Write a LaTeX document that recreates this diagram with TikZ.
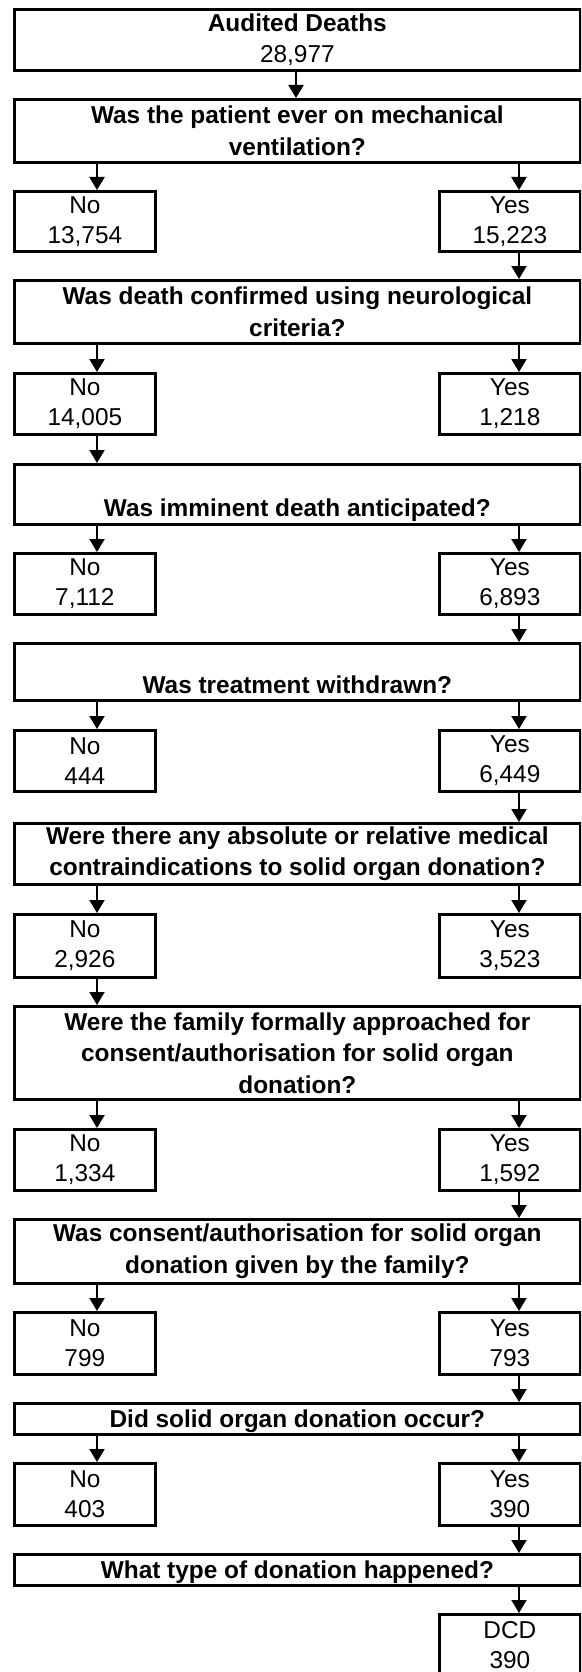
\documentclass[tikz,border=0pt]{standalone}
\usepackage{fontspec}
\setmainfont{Liberation Sans}
\usetikzlibrary{arrows.meta}
\begin{document}
\begin{tikzpicture}[x=1pt,y=-1pt,
  box/.style={draw=black, line width=2.7pt, inner sep=0pt, anchor=north west, align=center},
  wide/.style={box, minimum width=566pt, font=\fontsize{24.4}{31.5}\selectfont\bfseries},
  side/.style={box, minimum width=141pt, font=\fontsize{24.4}{30}\selectfont},
  arr/.style={-{Triangle[width=15pt,length=13pt]}, line width=2pt},
  lowtext/.style={text height=44pt, text depth=0pt},
  captext/.style={text height=17.5pt, text depth=0pt}
]
\clip (0,0) rectangle (581,1672);
\fill[white] (0,0) rectangle (581,1672);

\node[wide, minimum height=61pt] (top) at (13,8) {Audited Deaths\\\mdseries 28,977};
\node[wide, minimum height=63pt] (q1) at (13,98) {Was the patient ever on mechanical\\ventilation?};
\node[side, minimum height=60pt] (n1) at (13,190) {No\\13,754};
\node[side, minimum height=60pt] (y1) at (438,190) {Yes\\15,223};
\node[wide, minimum height=63pt] (q2) at (13,279) {Was death confirmed using neurological\\criteria?};
\node[side, minimum height=61pt] (n2) at (13,372) {No\\14,005};
\node[side, minimum height=61pt] (y2) at (438,372) {Yes\\1,218};
\node[wide, lowtext, minimum height=60pt] (q3) at (13,463) {Was imminent death anticipated?};
\node[side, minimum height=61pt] (n3) at (13,552) {No\\7,112};
\node[side, minimum height=61pt] (y3) at (438,552) {Yes\\6,893};
\node[wide, lowtext, minimum height=57pt] (q4) at (13,642) {Was treatment withdrawn?};
\node[side, minimum height=61pt] (n4) at (13,729) {No\\444};
\node[side, minimum height=61pt] (y4) at (438,729) {Yes\\6,449};
\node[wide, minimum height=61pt] (q5) at (13,822) {Were there any absolute or relative medical\\contraindications to solid organ donation?};
\node[side, minimum height=63pt] (n5) at (13,913) {No\\2,926};
\node[side, minimum height=63pt] (y5) at (438,913) {Yes\\3,523};
\node[wide, minimum height=93pt] (q6) at (13,1005) {Were the family formally approached for\\consent/authorisation for solid organ\\donation?};
\node[side, minimum height=61pt] (n6) at (13,1128) {No\\1,334};
\node[side, minimum height=61pt] (y6) at (438,1128) {Yes\\1,592};
\node[wide, minimum height=64pt] (q7) at (13,1218) {Was consent/authorisation for solid organ\\donation given by the family?};
\node[side, minimum height=62pt] (n7) at (13,1311) {No\\799};
\node[side, minimum height=62pt] (y7) at (438,1311) {Yes\\793};
\node[wide, captext, minimum height=31pt] (q8) at (13,1402) {Did solid organ donation occur?};
\node[side, minimum height=62pt] (n8) at (13,1462) {No\\403};
\node[side, minimum height=62pt] (y8) at (438,1462) {Yes\\390};
\node[wide, captext, minimum height=31pt] (q9) at (13,1553) {What type of donation happened?};
\node[side, minimum height=61pt] (dcd) at (438,1613) {DCD\\390};

\coordinate (xl) at (97,0);
\coordinate (xr) at (519,0);
\coordinate (xc) at (296,0);

\draw[arr] (top.south -| xc) -- (q1.north -| xc);
\draw[arr] (q1.south -| xl) -- (n1.north -| xl);
\draw[arr] (q1.south -| xr) -- (y1.north -| xr);
\draw[arr] (y1.south -| xr) -- (q2.north -| xr);
\draw[arr] (q2.south -| xl) -- (n2.north -| xl);
\draw[arr] (q2.south -| xr) -- (y2.north -| xr);
\draw[arr] (n2.south -| xl) -- (q3.north -| xl);
\draw[arr] (q3.south -| xl) -- (n3.north -| xl);
\draw[arr] (q3.south -| xr) -- (y3.north -| xr);
\draw[arr] (y3.south -| xr) -- (q4.north -| xr);
\draw[arr] (q4.south -| xl) -- (n4.north -| xl);
\draw[arr] (q4.south -| xr) -- (y4.north -| xr);
\draw[arr] (y4.south -| xr) -- (q5.north -| xr);
\draw[arr] (q5.south -| xl) -- (n5.north -| xl);
\draw[arr] (q5.south -| xr) -- (y5.north -| xr);
\draw[arr] (n5.south -| xl) -- (q6.north -| xl);
\draw[arr] (q6.south -| xl) -- (n6.north -| xl);
\draw[arr] (q6.south -| xr) -- (y6.north -| xr);
\draw[arr] (y6.south -| xr) -- (q7.north -| xr);
\draw[arr] (q7.south -| xl) -- (n7.north -| xl);
\draw[arr] (q7.south -| xr) -- (y7.north -| xr);
\draw[arr] (y7.south -| xr) -- (q8.north -| xr);
\draw[arr] (q8.south -| xl) -- (n8.north -| xl);
\draw[arr] (q8.south -| xr) -- (y8.north -| xr);
\draw[arr] (y8.south -| xr) -- (q9.north -| xr);
\draw[arr] (q9.south -| xr) -- (dcd.north -| xr);
\end{tikzpicture}
\end{document}
